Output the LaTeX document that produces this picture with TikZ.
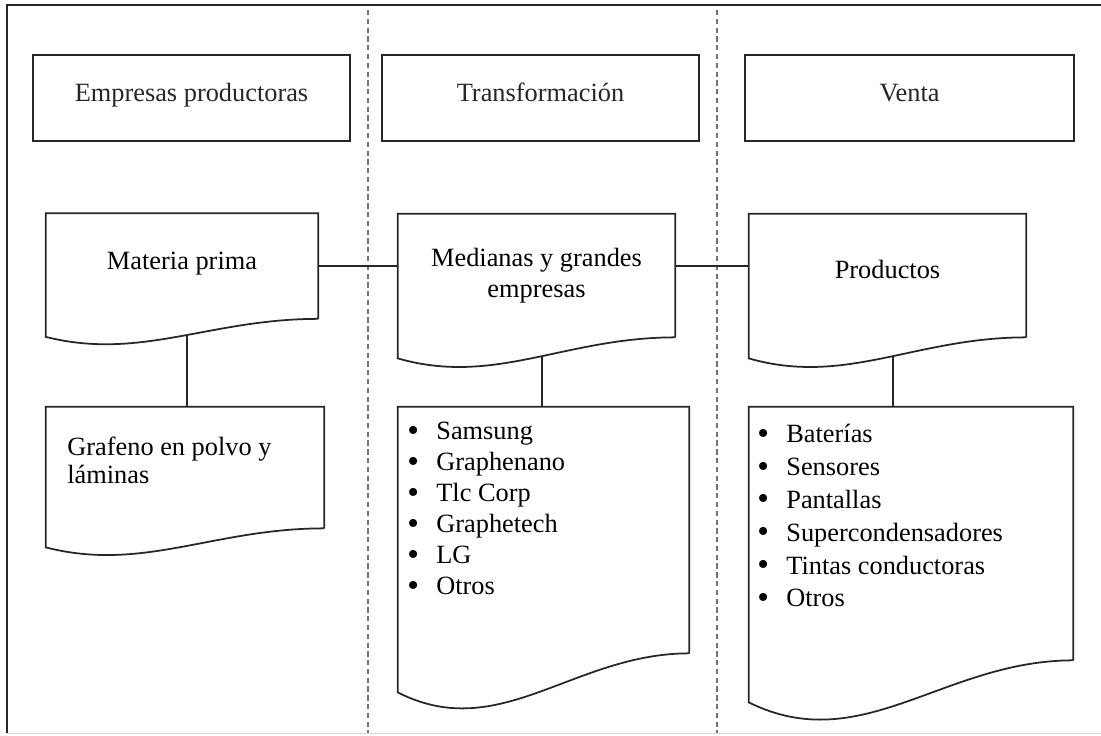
\documentclass[tikz,border=0pt]{standalone}
\usepackage{fontspec}
\setmainfont{Liberation Serif}

\newcommand{\punto}{\makebox[0.58cm][l]{\raisebox{-0.06em}{\fontsize{19}{0}\selectfont\textbullet}}}

\tikzset{
  linea/.style={line width=1pt, black!85},
  cabecera/.style={draw, linea, minimum height=1.72cm, inner sep=0pt, text height=0.3cm, text depth=0.18cm, font=\fontsize{15}{17.5}\selectfont},
  hoja/.style={inner sep=0pt, align=center, font=\fontsize{15}{17.5}\selectfont},
  lista/.style={anchor=north west, inner sep=0pt, align=left, font=\fontsize{15}{17.6}\selectfont},
  guia/.style={black!55, dash pattern=on 3pt off 2pt, line width=0.6pt}
}

\begin{document}
\begin{tikzpicture}[x=0.02cm, y=-0.02cm]
  \useasboundingbox (0,0) rectangle (1101,735);
  % marco y columnas
  \draw[linea] (1101,5) -- (7,5) -- (7,733);
  \draw[black!15] (7,733) -- (1101,733);
  \draw[guia] (368,10) -- (368,733);
  \draw[guia] (717,10) -- (717,733);

  % cabeceras
  \node[cabecera, minimum width=6.34cm] (emp) at (191.5,98) {Empresas productoras};
  \node[cabecera, minimum width=6.34cm] (trans) at (540.5,98) {Transformación};
  \node[cabecera, minimum width=6.58cm] (venta) at (909.5,98) {Venta};

  % hojas
  \node[hoja, minimum width=5.44cm, minimum height=2.1cm, text height=0.3cm, text depth=0.18cm] (mp) at (182,266) {Materia prima};
  \node[hoja, minimum width=5.54cm, minimum height=2.46cm] (med) at (536.5,275.5) {Medianas y grandes\\empresas};
  \node[hoja, minimum width=5.54cm, minimum height=2.46cm, text height=0.3cm, text depth=0.18cm] (prod) at (887.5,275.5) {Productos};
  \node[hoja, minimum width=5.56cm, minimum height=2.42cm] (graf) at (185,467.5) {};
  \node[hoja, minimum width=5.82cm, minimum height=4.92cm] (emps) at (543.5,530) {};
  \node[hoja, minimum width=6.48cm, minimum height=5.06cm] (usos) at (911,533.5) {};

  \draw[linea] (mp.south east) -- (mp.north east) -- (mp.north west) -- (mp.south west) -- ++(0,18) .. controls +(95,24) and +(-109,0) .. (mp.south east) coordinate[pos=0.54] (mp-w);
  \draw[linea] (med.south east) -- (med.north east) -- (med.north west) -- (med.south west) -- ++(0,21) .. controls +(97,28) and +(-111,0) .. (med.south east) coordinate[pos=0.54] (med-w);
  \draw[linea] (prod.south east) -- (prod.north east) -- (prod.north west) -- (prod.south west) -- ++(0,21) .. controls +(97,28) and +(-111,0) .. (prod.south east) coordinate[pos=0.54] (prod-w);
  \draw[linea] (graf.south east) -- (graf.north east) -- (graf.north west) -- (graf.south west) -- ++(0,19) .. controls +(97,25) and +(-111,0) .. (graf.south east);
  \draw[linea] (emps.south east) -- (emps.north east) -- (emps.north west) -- (emps.south west) -- ++(0,39) .. controls +(102,52) and +(-116,0) .. (emps.south east);
  \draw[linea] (usos.south east) -- (usos.north east) -- (usos.north west) -- (usos.south west) -- ++(0,42) .. controls +(113,56) and +(-130,0) .. (usos.south east);

  % textos
  \node[lista, font=\fontsize{15}{15.5}\selectfont] (graf-t) at (67,437) {Grafeno en polvo y\\láminas};
  \node[lista] (emps-t) at (407,422) {\punto Samsung\\\punto Graphenano\\\punto Tlc Corp\\\punto Graphetech\\\punto LG\\\punto Otros};
  \node[lista, font=\fontsize{15}{18.7}\selectfont] (usos-t) at (757,424) {\punto Baterías\\\punto Sensores\\\punto Pantallas\\\punto Supercondensadores\\\punto Tintas conductoras\\\punto Otros};

  % conectores
  \draw[linea] (mp.east) -- (mp.east -| med.west);
  \draw[linea] (med.east |- mp.east) -- (mp.east -| prod.west);
  \draw[linea] (mp-w) -- (mp-w |- graf.north);
  \draw[linea] (med-w) -- (med-w |- emps.north);
  \draw[linea] (prod-w) -- (prod-w |- usos.north);
\end{tikzpicture}
\end{document}
